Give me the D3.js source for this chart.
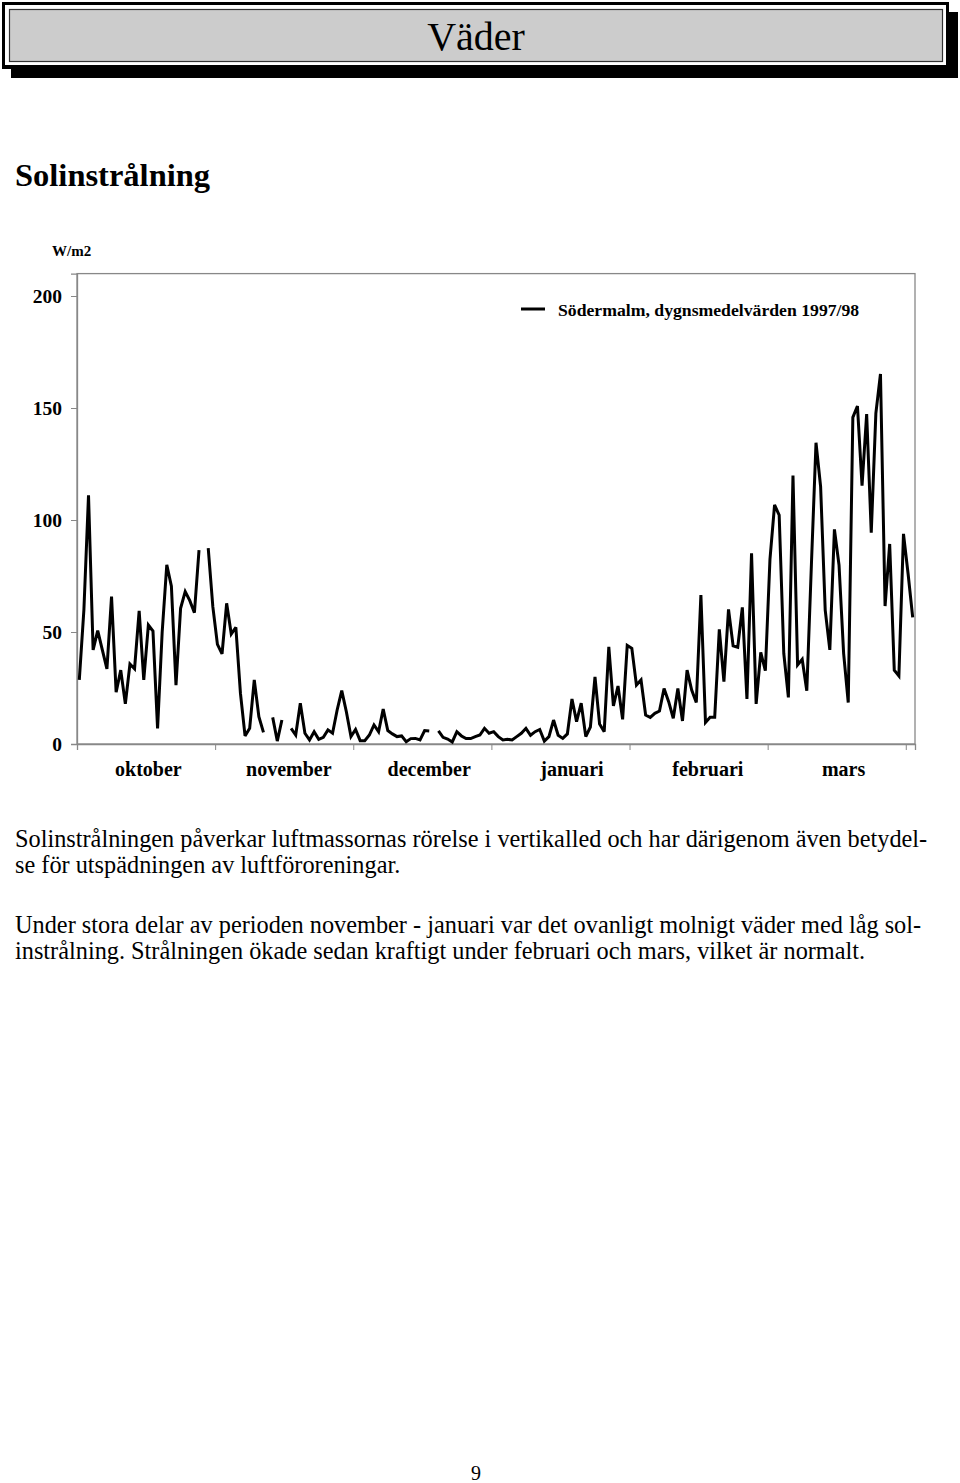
<!DOCTYPE html>
<html>
<head>
<meta charset="utf-8">
<script src="https://cdn.jsdelivr.net/npm/d3@7"></script>
<style>
  html, body { margin: 0; padding: 0; background: #fff; }
  svg { display: block; font-family: "Liberation Serif", "Times New Roman", serif; }
</style>
</head>
<body>
<svg id="page" width="960" height="1483"></svg>
<script>
// ---------- data ----------
const months = ["oktober", "november", "december", "januari", "februari", "mars"];
const monthDays = [31, 30, 31, 31, 28, 31];
const yTicks = [0, 50, 100, 150, 200];
const seriesName = "Södermalm, dygnsmedelvärden 1997/98";
const unitLabel = "W/m2";
// daily mean solar radiation, 1 Oct 1997 – 31 Mar 1998 (null = missing)
const radiation = [
  28.6, 60, 111, 42, 50.6, 42, 33.5, 65.8, 23.1, 33,
  17.9, 35.7, 33.6, 59.4, 28.6, 53.1, 50.4, 7, 50, 80,
  70.5, 26.3, 60.6, 68, 64, 58.6, 86.6, null, 87.4, 61.3,
  44.5, 40.2, 62.8, 49.1, 52.1, 22.6, 3.6, 7, 28.6, 12.2,
  5.2, null, 11.9, 1.3, 10.7, null, 7, 4, 18.2, 4.8,
  1.8, 5.5, 2.1, 3, 6.3, 4.8, 15.2, 23.8, 14.4, 3.3,
  6.5, 1.5, 1.5, 4, 8.5, 5.5, 15.6, 6, 4.5, 3.3,
  3.6, 1, 2.4, 2.5, 1.8, 6, 5.8, null, 5.9, 3,
  2.2, 0.9, 5.5, 3.6, 2.4, 2.4, 3.3, 4, 7, 4.8,
  5.5, 3.3, 1.8, 2.1, 1.8, 3.3, 4.8, 7, 3.9, 5.5,
  6.5, 1.3, 3.3, 10.7, 3.9, 2.5, 4.5, 20.1, 10, 18.2,
  3.3, 7.6, 30, 8.9, 5.5, 43.4, 17, 25.9, 11, 44,
  42.7, 26.3, 28.6, 12.9, 11.9, 13.7, 14.7, 24.8, 18.9, 11.5,
  24.8, 10.3, 33, 24.1, 18.5, 66.5, 9.6, 11.9, 11.9, 51.2,
  27.8, 60.1, 43.8, 43.2, 61, 20.1, 85.1, 17.9, 40.9, 32.7,
  82.4, 106.7, 102.2, 40.5, 20.8, 119.8, 35.3, 37.8, 23.8, 80,
  134.5, 114.9, 59.8, 42, 95.8, 79.9, 40.5, 18.5, 145.8, 150.9,
  115.3, 147.3, 94.3, 147.6, 165.2, 61.6, 89.3, 33, 30.4, 93.8,
  76, 56.5
];
const paragraph1 = [
  "Solinstrålningen påverkar luftmassornas rörelse i vertikalled och har därigenom även betydel-",
  "se för utspädningen av luftföroreningar."
];
const paragraph2 = [
  "Under stora delar av perioden november - januari var det ovanligt molnigt väder med låg sol-",
  "instrålning. Strålningen ökade sedan kraftigt under februari och mars, vilket är normalt."
];

// ---------- page ----------
const svg = d3.select("#page");
svg.append("rect").attr("width", 960).attr("height", 1483).attr("fill", "#fff");

// header box with shadow
const hdr = svg.append("g");
hdr.append("rect").attr("x", 11).attr("y", 12).attr("width", 947).attr("height", 66).attr("fill", "#000");
hdr.append("rect").attr("x", 2).attr("y", 2).attr("width", 947).attr("height", 67).attr("fill", "#000");
hdr.append("rect").attr("x", 5).attr("y", 5).attr("width", 941).attr("height", 60).attr("fill", "#fff");
hdr.append("rect").attr("x", 9.5).attr("y", 9.5).attr("width", 933).attr("height", 52)
  .attr("fill", "#cccccc").attr("stroke", "#333").attr("stroke-width", 1.2);
hdr.append("text").attr("x", 476).attr("y", 50).attr("text-anchor", "middle")
  .attr("font-size", 40).attr("fill", "#000").text("Väder");

// section heading
svg.append("text").attr("x", 15).attr("y", 186).attr("font-size", 32.5).attr("font-weight", "bold")
  .attr("fill", "#000").text("Solinstrålning");

// ---------- chart ----------
const nDays = d3.sum(monthDays);
const x = d3.scaleLinear().domain([0, nDays]).range([77, 915]);
const y = d3.scaleLinear().domain([0, 210]).range([744, 273.6]);

const chart = svg.append("g");

// frame (plot area border)
chart.append("rect").attr("x", x(0)).attr("y", y(210)).attr("width", x(nDays) - x(0))
  .attr("height", y(0) - y(210)).attr("fill", "none").attr("stroke", "#888").attr("stroke-width", 1.3);

// y axis
const yAxis = d3.axisLeft(y).tickValues(yTicks).tickSize(6).tickPadding(9).tickFormat(d3.format("d"));
const gy = chart.append("g").attr("transform", `translate(${x(0)},0)`).call(yAxis);
gy.select(".domain").attr("stroke", "#888").attr("stroke-width", 1.3);
gy.selectAll(".tick line").attr("stroke", "#888");
gy.selectAll(".tick text").attr("font-family", "Liberation Serif, serif").attr("font-size", 19.5)
  .attr("font-weight", "bold").attr("fill", "#000");

// x axis: ticks every 30 days, labels centred on months
const xTickVals = d3.range(0, nDays, 30);
const xAxis = d3.axisBottom(x).tickValues(xTickVals).tickSize(6).tickFormat("");
const gx = chart.append("g").attr("transform", `translate(0,${y(0)})`).call(xAxis);
gx.select(".domain").attr("stroke", "#888").attr("stroke-width", 1.3);
gx.selectAll(".tick line").attr("stroke", "#888");

const monthStart = d3.cumsum([0].concat(monthDays.slice(0, -1)));
chart.append("g").selectAll("text").data(months).join("text")
  .attr("x", (d, i) => x(monthStart[i] + monthDays[i] / 2))
  .attr("y", 776).attr("text-anchor", "middle")
  .attr("font-size", 20).attr("font-weight", "bold").attr("fill", "#000")
  .text(d => d);

// unit label
chart.append("text").attr("x", 52).attr("y", 256).attr("font-size", 15).attr("font-weight", "bold")
  .attr("fill", "#000").text(unitLabel);

// series line
const line = d3.line()
  .defined(d => d != null)
  .x((d, i) => x(i + 0.5))
  .y(d => y(d));
chart.append("path").datum(radiation).attr("d", line)
  .attr("fill", "none").attr("stroke", "#000").attr("stroke-width", 3)
  .attr("stroke-linejoin", "miter").attr("stroke-miterlimit", 3);

// legend
chart.append("line").attr("x1", 521).attr("x2", 545).attr("y1", 309).attr("y2", 309)
  .attr("stroke", "#000").attr("stroke-width", 3);
chart.append("text").attr("x", 558).attr("y", 316).attr("font-size", 17.7).attr("font-weight", "bold")
  .attr("fill", "#000").text(seriesName);

// ---------- body text ----------
const bodyText = svg.append("g").attr("font-size", 24.3).attr("fill", "#000");
paragraph1.forEach((t, i) => {
  bodyText.append("text").attr("x", 15).attr("y", 847 + i * 26).text(t);
});
paragraph2.forEach((t, i) => {
  bodyText.append("text").attr("x", 15).attr("y", 933 + i * 26).text(t);
});

// page number
svg.append("text").attr("x", 476).attr("y", 1480).attr("text-anchor", "middle")
  .attr("font-size", 20).attr("fill", "#000").text("9");
</script>
</body>
</html>
